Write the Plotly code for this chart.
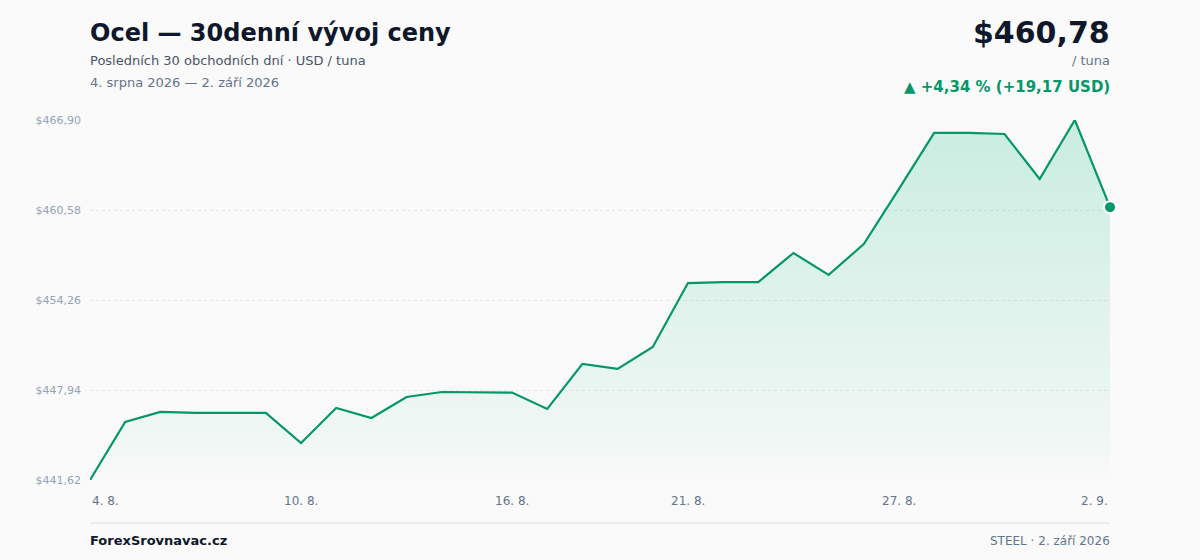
import pandas as pd
import plotly.graph_objects as go

# -------------------------------
# Data
# -------------------------------
dates = pd.date_range("2026-08-04", "2026-09-02", freq="D")
prices = [
    441.62, 445.69, 446.40, 446.33, 446.33, 446.33, 444.22, 446.68, 445.97, 447.45,
    447.80, 447.80, 447.76, 446.61, 449.77, 449.42, 450.96, 455.45, 455.52, 455.52,
    457.56, 456.02, 458.19, 462.06, 465.99, 465.99, 465.92, 462.76, 466.90, 460.78,
]
tick_dates = ["2026-08-04", "2026-08-10", "2026-08-16", "2026-08-21", "2026-08-27", "2026-09-02"]
tick_labels = ["4. 8.", "10. 8.", "16. 8.", "21. 8.", "27. 8.", "2. 9."]

GREEN = "#059669"
FONT = "DejaVu Sans"

y_min, y_max = min(prices), max(prices)
step = (y_max - y_min) / 4
y_ticks = [y_min + i * step for i in range(5)]
y_tick_text = [f"${v:,.2f}".replace(".", ",") for v in y_ticks]

fig = go.Figure()

# baseline for the gradient fill
fig.add_trace(go.Scatter(
    x=dates, y=[y_min] * len(dates),
    mode="lines", line=dict(width=0),
    hoverinfo="skip", showlegend=False,
))

# price line + area
fig.add_trace(go.Scatter(
    x=dates, y=prices,
    mode="lines",
    line=dict(color=GREEN, width=2.2),
    fill="tonexty",
    fillgradient=dict(
        type="vertical",
        start=y_min, stop=y_max,
        colorscale=[[0, "rgba(16,185,129,0.0)"], [0.1, "rgba(16,185,129,0.04)"],
                    [1, "rgba(16,185,129,0.21)"]],
    ),
    cliponaxis=False,
    showlegend=False,
))

# end point marker
fig.add_trace(go.Scatter(
    x=[dates[-1]], y=[prices[-1]],
    mode="markers",
    marker=dict(color=GREEN, size=12, line=dict(color="white", width=2)),
    cliponaxis=False,
    showlegend=False,
))

annotations = [
    dict(text="<b>Ocel — 30denní vývoj ceny</b>", x=-0.002, y=1.2417, xanchor="left",
         font=dict(size=24, color="#0f172a")),
    dict(text="Posledních 30 obchodních dní · USD / tuna", x=-0.002, y=1.1639, xanchor="left",
         font=dict(size=13, color="#475569")),
    dict(text="4. srpna 2026 — 2. září 2026", x=-0.002, y=1.1028, xanchor="left",
         font=dict(size=13, color="#64748b")),
    dict(text="<b>$460,78</b>", x=1.002, y=1.2444, xanchor="right",
         font=dict(size=30, color="#0f172a")),
    dict(text="/ tuna", x=1.002, y=1.1639, xanchor="right",
         font=dict(size=13, color="#64748b")),
    dict(text="<b>▲ +4,34 % (+19,17 USD)</b>", x=1.002, y=1.0917, xanchor="right",
         font=dict(size=15, color=GREEN)),
    dict(text="<b>ForexSrovnavac.cz</b>", x=-0.002, y=-0.1694, xanchor="left",
         font=dict(size=13, color="#0f172a")),
    dict(text="STEEL · 2. září 2026", x=1.002, y=-0.1694, xanchor="right",
         font=dict(size=12, color="#64748b")),
]
for a in annotations:
    a.update(xref="paper", yref="paper", yanchor="middle", showarrow=False)

# x tick labels (edges aligned to plot borders)
for i, (d, lab) in enumerate(zip(tick_dates, tick_labels)):
    anchor = "left" if i == 0 else ("right" if i == len(tick_dates) - 1 else "center")
    annotations.append(dict(
        text=lab, x=d, xref="x", y=-0.0583, yref="paper",
        xanchor=anchor, yanchor="middle", showarrow=False,
        font=dict(size=12, color="#64748b"),
    ))

fig.update_layout(
    width=1200, height=560,
    margin=dict(l=90, r=90, t=120, b=80),
    paper_bgcolor="#fafafa",
    plot_bgcolor="#fafafa",
    font=dict(family=FONT),
    annotations=annotations,
    shapes=[dict(type="line", xref="paper", yref="paper", x0=0, x1=1,
                 y0=-0.1194, y1=-0.1194, line=dict(color="#e5e7eb", width=1.5))],
    xaxis=dict(
        range=[dates[0], dates[-1]],
        showgrid=False, zeroline=False, showline=False,
        showticklabels=False, ticks="",
    ),
    yaxis=dict(
        range=[y_min, y_max],
        tickvals=y_ticks, ticktext=y_tick_text,
        tickfont=dict(size=11, color="#94a3b8"),
        ticklabelstandoff=8,
        showgrid=True, gridcolor="#e5e7eb", griddash="dot", gridwidth=1,
        zeroline=False, showline=False, ticks="",
    ),
)

# drop the browser's default body margin so the figure fills the window
fig.write_html(
    "out.html",
    config={"displayModeBar": False},
    post_script="document.body.style.margin='0';document.body.style.overflow='hidden';",
)
